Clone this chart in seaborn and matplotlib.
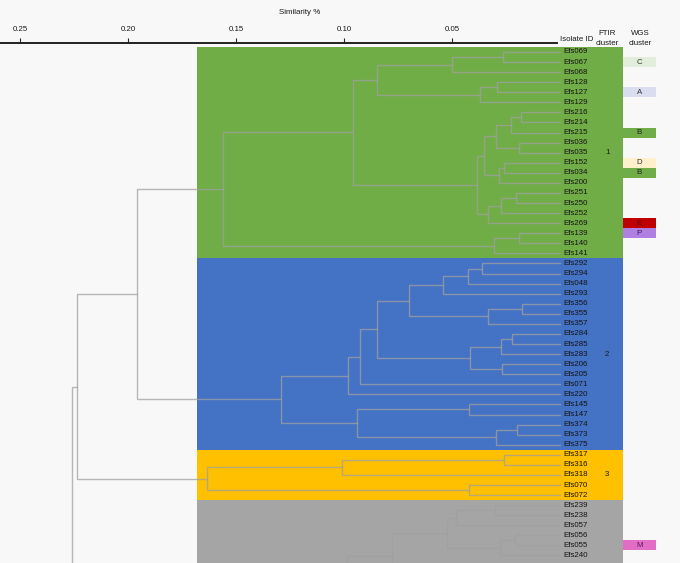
import numpy as np
import pandas as pd
import matplotlib.pyplot as plt
import seaborn as sns

# Isolates in dendrogram order (top to bottom, as far as the picture shows)
leaves = ['Efs069', 'Efs067', 'Efs068', 'Efs128', 'Efs127', 'Efs129', 'Efs216', 'Efs214',
          'Efs215', 'Efs036', 'Efs035', 'Efs152', 'Efs034', 'Efs200', 'Efs251', 'Efs250',
          'Efs252', 'Efs269', 'Efs139', 'Efs140', 'Efs141',
          'Efs292', 'Efs294', 'Efs048', 'Efs293', 'Efs356', 'Efs355', 'Efs357', 'Efs284',
          'Efs285', 'Efs283', 'Efs206', 'Efs205', 'Efs071', 'Efs220', 'Efs145', 'Efs147',
          'Efs374', 'Efs373', 'Efs375',
          'Efs317', 'Efs316', 'Efs318', 'Efs070', 'Efs072',
          'Efs239', 'Efs238', 'Efs057', 'Efs056', 'Efs055', 'Efs240']

# FTIR clusters
ftir_labels = ['1', '2', '3', '']
ftir_sizes = [21, 19, 5, 6]
ftir_colors = ['#70ad47', '#4472c4', '#ffc000', '#a5a5a5']

# WGS clusters
wgs_isolates = ['Efs067', 'Efs127', 'Efs215', 'Efs152', 'Efs034', 'Efs269', 'Efs139', 'Efs055']
wgs_labels = ['C', 'A', 'B', 'D', 'B', 'E', 'P', 'M']
wgs_colors = ['#e2eedb', '#d9ddef', '#70ad47', '#fff0cc', '#70ad47', '#c00000', '#b07fe2', '#e26dc6']
wgs_text = ['#333333', '#333333', '#222222', '#333333', '#222222', '#5a0000', '#3a1a60', '#5a1a50']

# merges: node, left child, right child, similarity of the join
merges = [
    ('c1', 'Efs069', 'Efs067', 0.0262), ('c2', 'c1', 'Efs068', 0.0500),
    ('a1', 'Efs128', 'Efs127', 0.0292), ('a2', 'a1', 'Efs129', 0.0370),
    ('g1', 'c2', 'a2', 0.0846),
    ('b1', 'Efs216', 'Efs214', 0.0182), ('b2', 'b1', 'Efs215', 0.0227),
    ('b3', 'Efs036', 'Efs035', 0.0188), ('b4', 'b2', 'b3', 0.0298),
    ('d1', 'Efs152', 'Efs034', 0.0258), ('d2', 'd1', 'Efs200', 0.0282),
    ('b5', 'b4', 'd2', 0.0350),
    ('e1', 'Efs251', 'Efs250', 0.0205), ('e2', 'e1', 'Efs252', 0.0275),
    ('e3', 'e2', 'Efs269', 0.0332), ('b6', 'b5', 'e3', 0.0383),
    ('g2', 'g1', 'b6', 0.0957),
    ('p1', 'Efs139', 'Efs140', 0.0188), ('p2', 'p1', 'Efs141', 0.0306),
    ('G', 'g2', 'p2', 0.1559),
    ('h1', 'Efs292', 'Efs294', 0.0362), ('h2', 'h1', 'Efs048', 0.0425),
    ('h3', 'h2', 'Efs293', 0.0540),
    ('i1', 'Efs356', 'Efs355', 0.0175), ('i2', 'i1', 'Efs357', 0.0332),
    ('h4', 'h3', 'i2', 0.0698),
    ('j1', 'Efs284', 'Efs285', 0.0221), ('j2', 'j1', 'Efs283', 0.0275),
    ('k1', 'Efs206', 'Efs205', 0.0267), ('j3', 'j2', 'k1', 0.0417),
    ('h5', 'h4', 'j3', 0.0846), ('h6', 'h5', 'Efs071', 0.0926),
    ('h7', 'h6', 'Efs220', 0.0983),
    ('l1', 'Efs145', 'Efs147', 0.0421),
    ('m1', 'Efs374', 'Efs373', 0.0200), ('m2', 'm1', 'Efs375', 0.0296),
    ('l2', 'l1', 'm2', 0.0941),
    ('B', 'h7', 'l2', 0.1292),
    ('GB', 'G', 'B', 0.1960),
    ('y1', 'Efs317', 'Efs316', 0.0259), ('y2', 'y1', 'Efs318', 0.1011),
    ('y3', 'Efs070', 'Efs072', 0.0421), ('Y', 'y2', 'y3', 0.1636),
    ('GBY', 'GB', 'Y', 0.2235),
    ('q1', 'Efs239', 'Efs238', 0.0301), ('q2', 'q1', 'Efs057', 0.0481),
    ('r1', 'Efs056', 'Efs055', 0.0208), ('r2', 'r1', 'Efs240', 0.0278),
    ('q3', 'q2', 'r2', 0.0522),
    ('q4', 'q3', 'below1', 0.0779), ('q5', 'q4', 'below2', 0.0988),
    ('root', 'GBY', 'below3', 0.2261),
]
# branches that continue below the visible part of the tree (row positions)
hidden_rows = {'below1': 52.3, 'below2': 56.0, 'below3': 60.0}

sim_ticks = [0.25, 0.20, 0.15, 0.10, 0.05]

sns.set_theme(style='white')
plt.rcParams['font.family'] = ['Liberation Sans', 'DejaVu Sans']
fs = 5.7

W, H = 680, 563
fig = plt.figure(figsize=(W / 100, H / 100), dpi=100, facecolor='#f8f8f8')
ax = fig.add_axes([0, 0, 658 / W, 555 / H])
ax.set_facecolor('white')
ax.set_xlim(0.25926, -0.04537)
ax.set_ylim(50.745, -4.369)
ax.axis('off')

band_left, band_right = 0.168, -0.0292
wgs_left, wgs_right = -0.0292, -0.0444

# FTIR cluster bands
start = 0
for lab, size, col in zip(ftir_labels, ftir_sizes, ftir_colors):
    top = start - 0.5
    bottom = start + size - 0.5
    if start + size >= len(leaves):
        bottom = 52
    ax.barh(y=(top + bottom) / 2, width=band_right - band_left, left=band_left,
            height=bottom - top, color=col, linewidth=0, zorder=1)
    if lab:
        ax.text(-0.0218, start + (size - 1) / 2, lab, fontsize=fs, ha='center', va='center',
                color='#1a1a1a', zorder=5)
    start += size

# dendrogram
pos = {name: (0.0, i) for i, name in enumerate(leaves)}
for name, r in hidden_rows.items():
    pos[name] = (None, r)
for node, a, b, h in merges:
    xa, ya = pos[a]
    xb, yb = pos[b]
    xa = h if xa is None else xa
    xb = h if xb is None else xb
    ax.plot([xa, h, h, xb], [ya, ya, yb, yb], color='#a0a0a0', alpha=0.75, lw=1.0,
            solid_joinstyle='miter', zorder=3)
    pos[node] = (h, (ya + yb) / 2)

# isolate names
for i, name in enumerate(leaves):
    ax.text(-0.0014, i, name, fontsize=fs, ha='left', va='center', color='#141414', zorder=5)

# WGS cluster boxes
rows = [leaves.index(n) for n in wgs_isolates]
ax.barh(y=rows, width=wgs_left - wgs_right, left=wgs_right, height=1.0,
        color=wgs_colors, linewidth=0, zorder=2)
for r, lab, tc in zip(rows, wgs_labels, wgs_text):
    ax.text((wgs_left + wgs_right) / 2, r, lab, fontsize=fs, ha='center', va='center',
            color=tc, zorder=5)

# column headers
ax.text(-0.0076, -1.29, 'Isolate ID', fontsize=fs, ha='center', va='center', color='#1a1a1a')
ax.text(-0.0218, -1.34, 'FTIR\ncluster', fontsize=fs, ha='center', va='center',
        linespacing=1.45, color='#1a1a1a')
ax.text(-0.0370, -1.34, 'WGS\ncluster', fontsize=fs, ha='center', va='center',
        linespacing=1.45, color='#1a1a1a')
ax.text(0.1204, -3.97, 'Similarity %', fontsize=fs, ha='center', va='center', color='#1a1a1a')

# similarity scale along the top
ax_sim = fig.add_axes([0, (H - 43) / H - 0.001, 557 / W, 0.001])
ax_sim.set_xlim(0.25926, 0.00139)
ax_sim.patch.set_alpha(0)
for s in ['left', 'right', 'bottom']:
    ax_sim.spines[s].set_visible(False)
ax_sim.spines['top'].set_linewidth(1.4)
ax_sim.spines['top'].set_color('#222222')
ax_sim.set_yticks([])
ax_sim.xaxis.tick_top()
ax_sim.set_xticks(sim_ticks)
ax_sim.set_xticklabels([f'{t:.2f}' for t in sim_ticks])
ax_sim.tick_params(axis='x', direction='out', length=3.5, width=0.8, color='#222222',
                   pad=3.5, labelsize=fs, labelcolor='#1a1a1a', top=True, bottom=False)

fig.savefig('out.png', dpi=100, facecolor=fig.get_facecolor())
